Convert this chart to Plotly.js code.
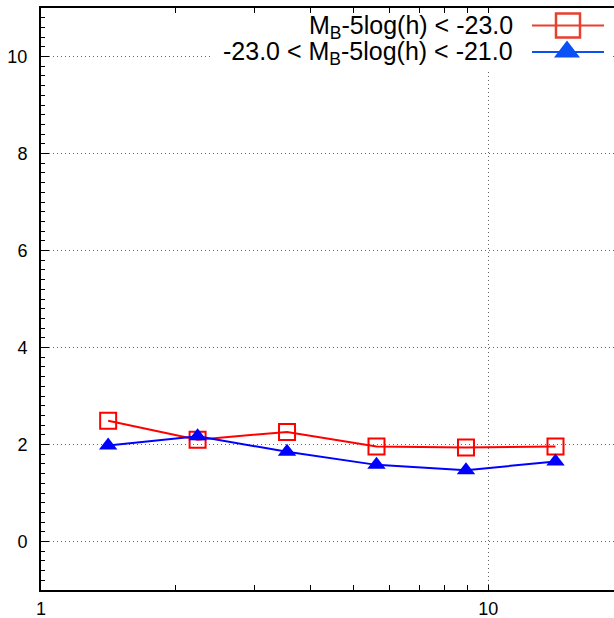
<!DOCTYPE html>
<html>
<head>
<meta charset="utf-8">
<script src="https://cdn.plot.ly/plotly-3.0.1.min.js"></script>
<style>
  html, body { margin: 0; padding: 0; background: #fff; overflow: hidden; }
  #chart { width: 650px; height: 618px; }
</style>
</head>
<body>
<div id="chart"></div>
<script>
// Radial bins (log-spaced) and the measured ratio for the two magnitude samples
const radius = [1.413, 2.239, 3.548, 5.623, 8.913, 14.13];
const brightRatio = [2.49, 2.10, 2.26, 1.96, 1.94, 1.96];
const midRatio = [1.98, 2.17, 1.85, 1.58, 1.47, 1.65];

const seriesNames = [
  'M<sub>B</sub>-5log(h) < -23.0',
  '-23.0 < M<sub>B</sub>-5log(h) < -21.0'
];

const xTickVals = [1, 10];
const xTickText = ['1', '10'];
const xMinorVals = [2, 3, 4, 5, 6, 7, 8, 9, 20];

// Plot-area geometry in pixels
const W = 650, H = 618;
const M = { l: 41, r: 27, t: 8, b: 28 };
const PW = W - M.l - M.r, PH = H - M.t - M.b;
const px = v => (v - M.l) / PW;        // page x -> paper fraction
const py = v => 1 - (v - M.t) / PH;    // page y -> paper fraction

const RED = '#ff0000', BLUE = '#0000ff';
const KEY_RED = '#e8402e', KEY_BLUE = '#0a50f5';
const FONT = 'Liberation Sans, Arial, Helvetica, sans-serif';

const traces = [
  {
    x: radius, y: brightRatio, type: 'scatter', mode: 'lines+markers',
    name: seriesNames[0],
    line: { color: RED, width: 2 },
    marker: { symbol: 'square-open', size: 16, color: RED, line: { width: 2, color: RED } }
  },
  {
    x: radius, y: midRatio, type: 'scatter', mode: 'lines+markers',
    name: seriesNames[1],
    line: { color: BLUE, width: 2 },
    marker: { symbol: 'triangle-up', size: 16, color: BLUE, line: { width: 0 } }
  }
];

const gridStyle = { showgrid: true, gridcolor: '#666', gridwidth: 1, griddash: '1px,3px' };

// Key for the two series, drawn at the upper right on a white panel
const keyY = [25.5, 52];
const shapes = [
  { type: 'rect', xref: 'paper', yref: 'paper', layer: 'above',
    x0: px(212), x1: px(612), y0: py(13.5), y1: py(69),
    fillcolor: '#ffffff', line: { width: 0 } },
  { type: 'line', xref: 'paper', yref: 'paper', layer: 'above',
    x0: px(532), x1: px(604), y0: py(keyY[0]), y1: py(keyY[0]),
    line: { color: KEY_RED, width: 2 } },
  { type: 'rect', xref: 'paper', yref: 'paper', layer: 'above',
    x0: px(556), x1: px(580), y0: py(keyY[0] + 12), y1: py(keyY[0] - 12),
    fillcolor: 'rgba(0,0,0,0)', line: { color: KEY_RED, width: 2.5 } },
  { type: 'line', xref: 'paper', yref: 'paper', layer: 'above',
    x0: px(532), x1: px(604), y0: py(keyY[1]), y1: py(keyY[1]),
    line: { color: KEY_BLUE, width: 2 } },
  { type: 'path', xref: 'paper', yref: 'paper', layer: 'above',
    path: 'M ' + px(554) + ' ' + py(keyY[1] + 5.5) +
          ' L ' + px(580) + ' ' + py(keyY[1] + 5.5) +
          ' L ' + px(567) + ' ' + py(keyY[1] - 11.5) + ' Z',
    fillcolor: KEY_BLUE, line: { width: 0 } }
];

const annotations = seriesNames.map((t, i) => ({
  xref: 'paper', yref: 'paper',
  x: px(515), y: py(keyY[i] + 1),
  xanchor: 'right', yanchor: 'middle',
  text: t, showarrow: false,
  font: { family: FONT, size: 25, color: '#000' }
}));

const layout = {
  width: W, height: H,
  margin: M,
  paper_bgcolor: '#fff', plot_bgcolor: '#fff',
  showlegend: false,
  font: { family: FONT, size: 18, color: '#000' },
  xaxis: Object.assign({
    type: 'log', range: [0, Math.log10(20)],
    tickmode: 'array', tickvals: xTickVals, ticktext: xTickText,
    ticks: 'inside', ticklen: 5, tickwidth: 1, tickcolor: '#000',
    showline: true, linecolor: '#000', linewidth: 2, mirror: 'ticks',
    zeroline: false, ticklabelstandoff: 1,
    minor: { tickmode: 'array', tickvals: xMinorVals, ticks: 'inside', ticklen: 5, tickcolor: '#000', showgrid: false }
  }, gridStyle),
  yaxis: Object.assign({
    range: [-1, 11], dtick: 2, tick0: 0,
    ticks: 'inside', ticklen: 8, tickwidth: 1, tickcolor: '#000',
    showline: true, linecolor: '#000', linewidth: 2, mirror: 'ticks',
    zeroline: false, ticklabelstandoff: 8,
    minor: { dtick: 0.2, ticks: 'inside', ticklen: 4, tickcolor: '#000', showgrid: false }
  }, gridStyle),
  shapes: shapes,
  annotations: annotations
};

Plotly.newPlot('chart', traces, layout, { displayModeBar: false, staticPlot: true });
</script>
</body>
</html>
